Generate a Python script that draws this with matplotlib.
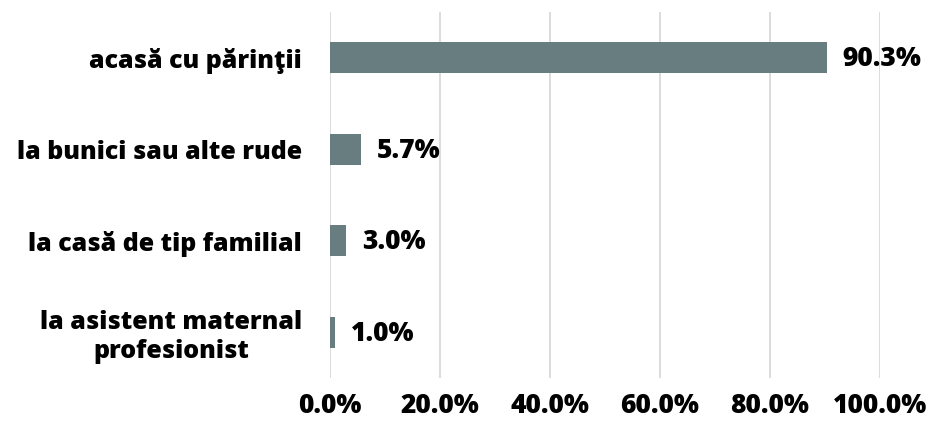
import matplotlib
matplotlib.use("Agg")
import matplotlib.pyplot as plt
from matplotlib.ticker import FuncFormatter

categories = ["acasă cu părinţii", "la bunici sau alte rude", "la casă de tip familial",
              "la asistent maternal\nprofesionist"]
values = [90.3, 5.7, 3.0, 1.0]
ticks = [0, 20, 40, 60, 80, 100]

plt.rcParams['font.family'] = ['Open Sans', 'DejaVu Sans']
fig = plt.figure(figsize=(9.37, 4.24), dpi=100)
ax = fig.add_axes([330/937, 46/424, 550/937, 366/424])

ypos = list(range(len(categories)))
ax.barh(ypos, values, height=0.34, color="#687d80", zorder=2)
ax.set_ylim(3.5, -0.5)
ax.set_xlim(0, 100)
ax.set_xticks(ticks)
ax.xaxis.set_major_formatter(FuncFormatter(lambda v, p: f"{v:.1f}%"))
ax.set_yticks(ypos)
ax.set_yticklabels(categories, fontsize=18, fontweight=800, multialignment='center')
for lbl in ax.get_xticklabels():
    lbl.set_fontsize(19)
    lbl.set_fontweight(800)
ax.tick_params(axis='x', length=0, pad=11)
ax.tick_params(axis='y', length=0, pad=20)
ax.grid(axis='x', color="#d9d9d9", linewidth=1.3, zorder=0)
for s in ax.spines.values():
    s.set_visible(False)

for y, v in zip(ypos, values):
    ax.annotate(f"{v:.1f}%", xy=(v, y), xytext=(11, -1), textcoords='offset points',
                va='center', ha='left', fontsize=19, fontweight=800, color='black')

fig.savefig("out.png", dpi=100)
